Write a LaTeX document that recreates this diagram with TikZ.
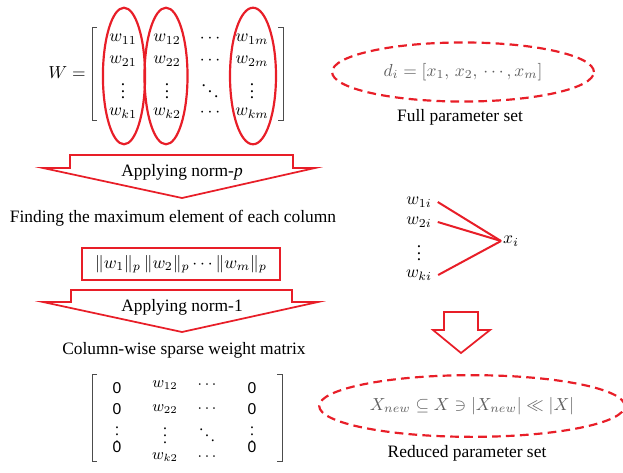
\documentclass[tikz,border=0pt]{standalone}
\usepackage{fontspec}
\setmainfont{Liberation Serif}
\newfontfamily\zerofont{Liberation Sans}
\usetikzlibrary{shapes.geometric}
\definecolor{mred}{RGB}{232,30,40}
\definecolor{mgray}{RGB}{95,95,95}
\tikzset{
  ring/.style={draw=mred, line width=1.25pt},
  dashring/.style={draw=mred, line width=1.25pt, dash pattern=on 5pt off 3pt, ellipse},
  bigarrow/.style={draw=mred, line width=1pt},
  brack/.style={draw=black!70, line width=0.5pt},
  wire/.style={draw=mred, line width=1.15pt},
}
\begin{document}
\begin{tikzpicture}[x=0.574pt,y=-0.574pt]
\useasboundingbox (0,0) rectangle (623,472);

\node (W) at (67,73) {$W=$};

\draw[brack] (97,27) -- (92,27) -- (92,120) -- (97,120);
\draw[brack] (278,27) -- (283,27) -- (283,120) -- (278,120);

\node (a11) at (123,39) {$w_{11}$};
\node (a21) at (123,61) {$w_{21}$};
\node[inner sep=0pt] (a31) at (123,86) {$\vdots$};
\node (ak1) at (123,113) {$w_{k1}$};

\node (a12) at (167,39) {$w_{12}$};
\node (a22) at (167,61) {$w_{22}$};
\node[inner sep=0pt] (a32) at (167,86) {$\vdots$};
\node (ak2) at (167,113) {$w_{k2}$};

\node (a13) at (210,39) {$\cdots$};
\node (a23) at (210,61) {$\cdots$};
\node[inner sep=0pt] (a33) at (210,86) {$\ddots$};
\node (ak3) at (210,113) {$\cdots$};

\node (a1m) at (252,39) {$w_{1m}$};
\node (a2m) at (252,61) {$w_{2m}$};
\node[inner sep=0pt] (a3m) at (252,86) {$\vdots$};
\node (akm) at (252,113) {$w_{km}$};

\draw[ring] (124,76) ellipse [x radius=12.1pt, y radius=39.2pt];
\draw[ring] (166,76) ellipse [x radius=12.35pt, y radius=39.2pt];
\draw[ring] (253,76) ellipse [x radius=13.2pt, y radius=39.2pt];

\node[dashring, minimum width=150.3pt, minimum height=33.9pt, text=mgray] (fullset) at (463,72) {$d_i=[x_1,\,x_2,\,\cdots,x_m]$};
\node (fulllabel) at (460,117) {Full parameter set};

\draw[bigarrow] (70,155) -- (293,155) -- (293,168) -- (315,168) -- (182,198) -- (43,168) -- (70,168) -- cycle;
\node (normp) at (182,172) {Applying norm-\textit{p}};

\node (findmax) at (173,218) {Finding the maximum element of each column};

\node[draw=mred, line width=1pt, minimum width=113.7pt, minimum height=18.4pt] (norms) at (181,264) {$\|w_1\|_p\,\|w_2\|_p\cdots\|w_m\|_p$};

\draw[bigarrow] (71,290) -- (292,290) -- (292,302) -- (318,302) -- (182,332) -- (43,302) -- (71,302) -- cycle;
\node (norm1) at (182,307) {Applying norm-1};

\node (colwise) at (184,350) {Column-wise sparse weight matrix};

\draw[brack] (97,374) -- (92,374) -- (92,461) -- (97,461);
\draw[brack] (277,374) -- (282,374) -- (282,461) -- (277,461);

\node[font=\zerofont\small] (b11) at (117,388) {0};
\node[font=\zerofont\small] (b21) at (117,409) {0};
\node[font=\small, inner sep=0pt] (b31) at (117,430) {$\vdots$};
\node[font=\zerofont\small] (bk1) at (117,447) {0};

\node[font=\small] (b12) at (165,385) {$w_{12}$};
\node[font=\small] (b22) at (165,409) {$w_{22}$};
\node[font=\small, inner sep=0pt] (b32) at (165,431) {$\vdots$};
\node[font=\small] (bk2) at (165,457) {$w_{k2}$};

\node[font=\small] (b13) at (207,385) {$\cdots$};
\node[font=\small] (b23) at (207,409) {$\cdots$};
\node[font=\small, inner sep=0pt] (b33) at (207,430) {$\ddots$};
\node[font=\small] (bk3) at (207,457) {$\cdots$};

\node[font=\zerofont\small] (b1m) at (252,388) {0};
\node[font=\zerofont\small] (b2m) at (252,409) {0};
\node[font=\small, inner sep=0pt] (b3m) at (252,430) {$\vdots$};
\node[font=\zerofont\small] (bkm) at (252,447) {0};

\node (w1i) at (419,202) {$w_{1i}$};
\node (w2i) at (419,222) {$w_{2i}$};
\node[inner sep=0pt] (w3i) at (419,248) {$\vdots$};
\node (wki) at (419,275) {$w_{ki}$};
\node[inner sep=1pt] (xi) at (511,241) {$x_i$};

\draw[wire] (w1i.east) -- (xi.west);
\draw[wire] (w2i.east) -- (xi.west);
\draw[wire] (wki.east) -- (xi.west);

\draw[bigarrow] (444,312) -- (478,312) -- (478,330) -- (490,330) -- (461,353) -- (433,330) -- (444,330) -- cycle;

\node[dashring, minimum width=172.3pt, minimum height=35.4pt, text=mgray] (redset) at (472,406) {$X_{new}\subseteq X\ni|X_{new}|\ll|X|$};
\node (redlabel) at (467,453) {Reduced parameter set};

\end{tikzpicture}
\end{document}
